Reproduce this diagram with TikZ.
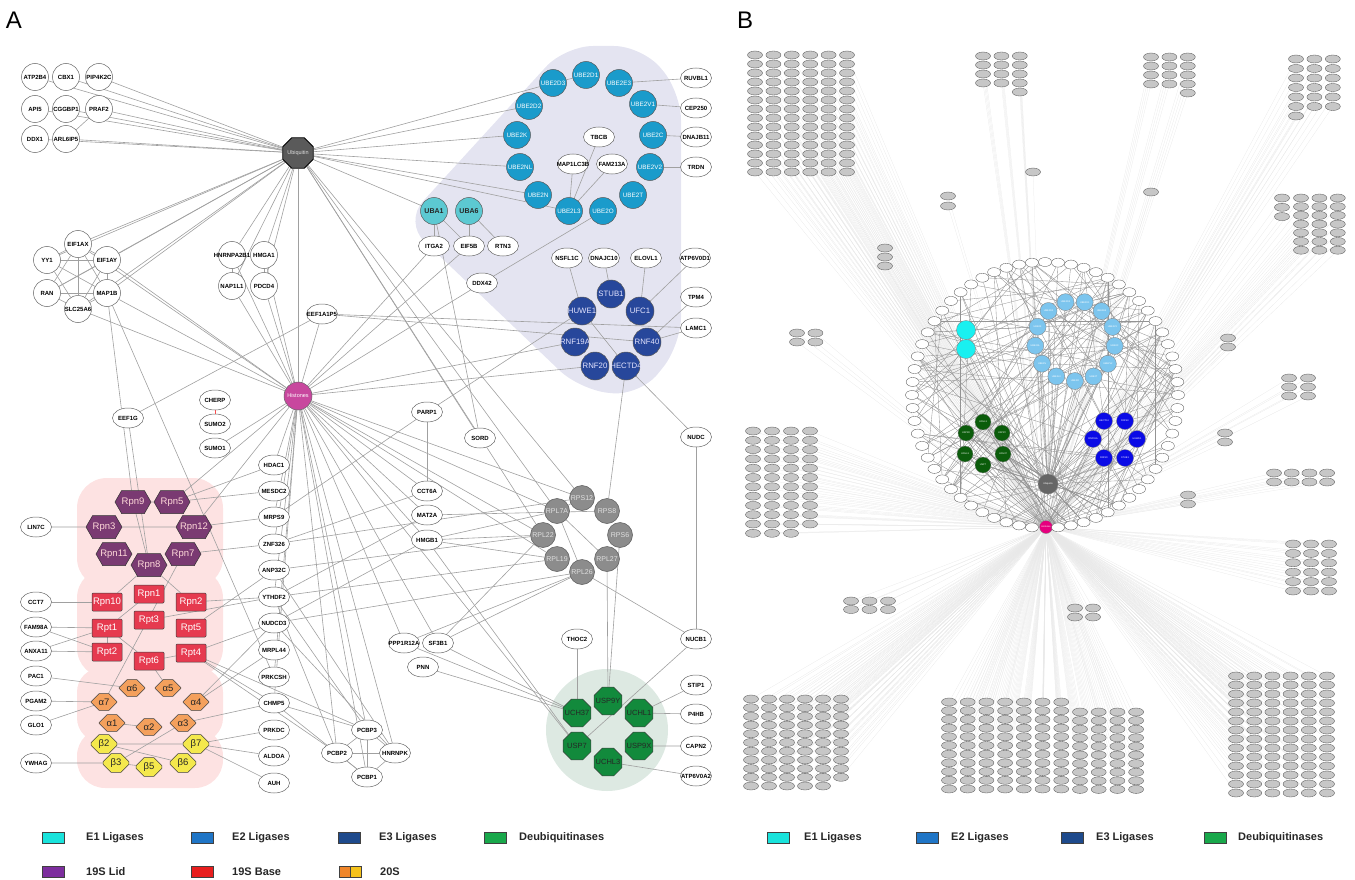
\documentclass[tikz,border=0pt]{standalone}
\usepackage{fontspec}
\setmainfont{Liberation Sans}
\usetikzlibrary{shapes.geometric,shapes.misc,shapes.symbols}
\pgfdeclarelayer{blob}
\pgfdeclarelayer{bg}
\pgfsetlayers{blob,bg,main}

\definecolor{lav}{HTML}{E4E4F1}
\definecolor{pinkbg}{HTML}{FDE2E2}
\definecolor{greenbg}{HTML}{DDE9E2}
\definecolor{cEone}{HTML}{5CC9D2}
\definecolor{cEtwo}{HTML}{1A9BCB}
\definecolor{cEthree}{HTML}{27479B}
\definecolor{cDub}{HTML}{128A3C}
\definecolor{cLid}{HTML}{7A3A72}
\definecolor{cBase}{HTML}{E63A4F}
\definecolor{cAlpha}{HTML}{F4A05C}
\definecolor{cBeta}{HTML}{F4E84C}
\definecolor{cRibo}{HTML}{8C8C8C}
\definecolor{cUbq}{HTML}{5A5A5A}
\definecolor{cHis}{HTML}{C8479E}
\definecolor{edgegray}{HTML}{A0A0A0}
\definecolor{kEone}{HTML}{19E3DC}
\definecolor{kEtwo}{HTML}{1F75C6}
\definecolor{kEthree}{HTML}{1E4A8C}
\definecolor{kDub}{HTML}{19A84B}
\definecolor{kLid}{HTML}{7D2E9E}
\definecolor{kBase}{HTML}{E81E1E}
\definecolor{kAlpha}{HTML}{F0862A}
\definecolor{kBeta}{HTML}{F5C21B}
\definecolor{bEone}{HTML}{19F0F0}
\definecolor{bEtwo}{HTML}{7CC5EE}
\definecolor{bEthree}{HTML}{0A0AE6}
\definecolor{bDub}{HTML}{0B5C0B}
\definecolor{bHisc}{HTML}{E6007E}

\tikzstyle{fixed}=[execute at begin node={\hbox to 0pt\bgroup\hss},execute at end node={\hss\egroup}]
\tikzstyle{vertex}=[ellipse,draw=black!60,fill=white,line width=0.5pt,minimum width=31pt,minimum height=20pt,inner sep=0pt,font=\fontsize{6}{7}\selectfont\bfseries,fixed]
\tikzstyle{Cvertex}=[vertex,circle,minimum size=27pt]
\tikzstyle{Etwo}=[circle,draw=black!65,fill=cEtwo,minimum size=27pt,inner sep=0pt,line width=0.5pt,text=white,font=\fontsize{6.3}{7}\selectfont,fixed]
\tikzstyle{Eone}=[Etwo,fill=cEone,text=black!85,font=\fontsize{7}{8}\selectfont\bfseries]
\tikzstyle{Ethree}=[Etwo,fill=cEthree,minimum size=28pt,text=blue!10,font=\fontsize{7.8}{9}\selectfont]
\tikzstyle{Rvertex}=[Etwo,fill=cRibo,minimum size=25pt,text=black!12,font=\fontsize{7}{8}\selectfont]
\tikzstyle{Dvertex}=[regular polygon,regular polygon sides=8,draw=black!75,fill=cDub,minimum size=30pt,inner sep=0pt,line width=0.5pt,text=black!85,font=\fontsize{7.5}{9}\selectfont,fixed]
\tikzstyle{Avertex}=[chamfered rectangle,chamfered rectangle xsep=4pt,chamfered rectangle ysep=4pt,inner xsep=3.5pt,inner ysep=1pt,draw=black!75,fill=cAlpha,line width=0.5pt,text=black!85,font=\fontsize{9.5}{10}\selectfont]
\tikzstyle{Bvertex}=[Avertex,fill=cBeta]
\tikzstyle{Lvertex}=[signal,signal to=east and west,signal pointer angle=120,draw=black!80,fill=cLid,minimum width=36pt,minimum height=23pt,inner sep=0pt,line width=0.5pt,text=pink!60,font=\fontsize{9.5}{11}\selectfont,fixed]
\tikzstyle{Svertex}=[rectangle,rounded corners=1pt,draw=black!75,fill=cBase,minimum width=30pt,minimum height=18pt,inner sep=0pt,line width=0.5pt,text=white,font=\fontsize{9.5}{11}\selectfont,fixed]
\tikzstyle{Uvertex}=[regular polygon,regular polygon sides=8,draw=black,fill=cUbq,minimum size=33pt,inner sep=0pt,line width=0.9pt,text=black!12,font=\fontsize{5.5}{6}\selectfont,fixed]
\tikzstyle{Hvertex}=[circle,draw=black!60,fill=cHis,minimum size=28pt,inner sep=0pt,line width=0.5pt,text=white,font=\fontsize{5.5}{6}\selectfont,fixed]
\tikzstyle{edge}=[draw=edgegray,line width=0.6pt]
\tikzstyle{gvertex}=[ellipse,draw=black!65,fill=black!22,line width=0.35pt,minimum width=15pt,minimum height=8pt,inner sep=0pt]
\tikzstyle{rvertex}=[gvertex,fill=white,minimum width=13pt,minimum height=9pt]
\tikzstyle{bnode}=[circle,draw=black!50,line width=0.35pt,inner sep=0pt,text=white,font=\fontsize{2.4}{3}\selectfont,fixed]
\tikzstyle{faint}=[draw=black!9,line width=0.25pt]
\tikzstyle{bedge}=[draw=black!42,line width=0.35pt]
\tikzstyle{key}=[rectangle,draw=black!75,line width=0.6pt,minimum width=22pt,minimum height=11pt,inner sep=0pt]
\tikzstyle{keytext}=[anchor=west,inner sep=0pt,text=black!85,font=\fontsize{11}{13}\selectfont\bfseries]

% one block of grey nodes in panel B: name, x, y, columns, rows, dx, dy
\newcommand{\bgrid}[7]{%
  \foreach \i in {1,...,#4}{%
    \foreach \j in {1,...,#5}{%
      \node[gvertex] (#1\i-\j) at ({#2+#6*(\i-1)},{#3+#7*(\j-1)}) {};
    }}}
% the faint links of such a block
\newcommand{\bfan}[7]{%
  \foreach \i in {1,...,#4}{%
    \foreach \j in {1,...,#5}{%
      \draw[faint] (#1\i-\j) -- (bHis);
    }}}
% all blocks of panel B
\newcommand{\allblocks}[1]{%
  #1{tl}{755}{55}{6}{14}{18.4}{9}
  #1{ta}{983}{56}{3}{4}{18.4}{9}
  #1{tax}{1019.8}{92}{1}{1}{0}{0}
  #1{tb}{1151}{57}{3}{4}{18.4}{9}
  #1{tbx}{1187.8}{93}{1}{1}{0}{0}
  #1{tr}{1296}{59}{3}{6}{18.4}{9.5}
  #1{trx}{1296}{116}{1}{1}{0}{0}
  #1{rn}{1282}{198}{1}{3}{0}{9.3}
  #1{rm}{1301}{198}{3}{7}{18.4}{8.7}
  #1{sa}{885}{248}{1}{3}{0}{9}
  #1{sb}{948}{196}{1}{2}{0}{10}
  #1{sc}{1033}{172}{1}{1}{0}{0}
  #1{sd}{1151}{192}{1}{1}{0}{0}
  #1{se}{797}{333}{2}{2}{18.4}{9}
  #1{sf}{1228}{338}{1}{2}{0}{9}
  #1{sg}{1289}{378}{2}{3}{19}{9}
  #1{sh}{1225}{433}{1}{2}{0}{9}
  #1{si}{1274}{473}{4}{2}{17.7}{9}
  #1{sj}{1188}{495}{1}{2}{0}{9}
  #1{lf}{753}{431}{3}{12}{19}{9.3}
  #1{lg}{810}{431}{1}{11}{0}{9.3}
  #1{rt}{1293}{544}{3}{6}{18}{9.4}
  #1{sk}{851}{601}{3}{2}{18.5}{8.5}
  #1{sl}{1075}{608}{2}{2}{18}{9}
  #1{bl}{751}{699}{5}{11}{18}{8.7}
  #1{bm}{841}{699}{1}{10}{0}{8.7}
  #1{ma}{949}{702}{7}{11}{18.7}{8.7}
  #1{mb}{1080}{712}{4}{10}{18.7}{8.6}
  #1{br}{1236}{676}{6}{14}{18.2}{9}}

\begin{document}
\begin{tikzpicture}[x=1pt,y=-1pt]
\useasboundingbox (0,0) rectangle (1355,880);
\node[font=\fontsize{24}{28}\selectfont] (labA) at (14,20) {A};
\node[font=\fontsize{24}{28}\selectfont] (labB) at (745,20) {B};

% shaded groups
\begin{pgfonlayer}{blob}
  \fill[lav,rounded corners=28pt] (404,222) -- (565,46) -- (642,46) -- (681,92) -- (681,345) -- (640,396) -- (580,390) -- cycle;
  \fill[pinkbg,rounded corners=30pt] (77,478) rectangle (223,588);
  \fill[pinkbg,rounded corners=30pt] (77,568) rectangle (223,678);
  \fill[pinkbg,rounded corners=24pt] (77,668) rectangle (223,742);
  \fill[pinkbg,rounded corners=28pt] (77,728) rectangle (223,788);
  \fill[greenbg] (607,730) circle[radius=61];
\end{pgfonlayer}

% hubs
\node[Uvertex] (Ubiquitin) at (298,153) {Ubiquitin};
\node[Hvertex] (Histones) at (298,396) {Histones};

% top left
\node[Cvertex] (ATP2B4) at (35,77) {ATP2B4};
\node[Cvertex] (CBX1) at (66,77) {CBX1};
\node[Cvertex] (PIP4K2C) at (99,77) {PIP4K2C};
\node[Cvertex] (API5) at (35,109) {API5};
\node[Cvertex] (CGGBP1) at (66,109) {CGGBP1};
\node[Cvertex] (PRAF2) at (99,109) {PRAF2};
\node[Cvertex] (DDX1) at (35,139) {DDX1};
\node[Cvertex] (ARL6IP5) at (66,139) {ARL6IP5};

% E2 ring
\node[Etwo] (UBE2D1) at (586,75) {UBE2D1};
\node[Etwo] (UBE2D3) at (553,83) {UBE2D3};
\node[Etwo] (UBE2E3) at (619,83) {UBE2E3};
\node[Etwo] (UBE2D2) at (529,106) {UBE2D2};
\node[Etwo] (UBE2V1) at (643,104) {UBE2V1};
\node[Etwo] (UBE2K) at (517,135) {UBE2K};
\node[Etwo] (UBE2C) at (653,135) {UBE2C};
\node[Etwo] (UBE2NL) at (520,167) {UBE2NL};
\node[Etwo] (UBE2V2) at (650,167) {UBE2V2};
\node[Etwo] (UBE2N) at (538,195) {UBE2N};
\node[Etwo] (UBE2T) at (633,195) {UBE2T};
\node[Etwo] (UBE2L3) at (569,211) {UBE2L3};
\node[Etwo] (UBE2O) at (603,211) {UBE2O};
\node[vertex] (TBCB) at (599,137) {TBCB};
\node[vertex] (MAP1LC3B) at (573,164) {MAP1LC3B};
\node[vertex] (FAM213A) at (612,164) {FAM213A};
\node[vertex] (RUVBL1) at (696,78) {RUVBL1};
\node[vertex] (CEP250) at (696,108) {CEP250};
\node[vertex] (DNAJB11) at (696,137) {DNAJB11};
\node[vertex] (TRDN) at (696,167) {TRDN};

% E1
\node[Eone] (UBA1) at (434,211) {UBA1};
\node[Eone] (UBA6) at (469,211) {UBA6};
\node[vertex] (ITGA2) at (434,246) {ITGA2};
\node[vertex] (EIF5B) at (469,246) {EIF5B};
\node[vertex] (RTN3) at (503,246) {RTN3};
\node[vertex] (DDX42) at (482,283) {DDX42};

% E3
\node[vertex] (NSFL1C) at (567,258) {NSFL1C};
\node[vertex] (DNAJC10) at (604,258) {DNAJC10};
\node[vertex] (ELOVL1) at (646,258) {ELOVL1};
\node[vertex] (ATP6V0D1) at (695,258) {ATP6V0D1};
\node[vertex] (TPM4) at (696,297) {TPM4};
\node[vertex] (LAMC1) at (696,328) {LAMC1};
\node[Ethree] (STUB1) at (611,294) {STUB1};
\node[Ethree] (HUWE1) at (582,311) {HUWE1};
\node[Ethree] (UFC1) at (640,311) {UFC1};
\node[Ethree] (RNF19A) at (575,342) {RNF19A};
\node[Ethree] (RNF40) at (647,342) {RNF40};
\node[Ethree] (RNF20) at (595,366) {RNF20};
\node[Ethree] (HECTD4) at (626,366) {HECTD4};
\node[vertex] (PARP1) at (427,412) {PARP1};
\node[vertex] (SORD) at (480,438) {SORD};
\node[vertex] (NUDC) at (696,437) {NUDC};

% left middle
\node[Cvertex] (EIF1AX) at (78,244) {EIF1AX};
\node[Cvertex] (YY1) at (47,260) {YY1};
\node[Cvertex] (EIF1AY) at (107,260) {EIF1AY};
\node[Cvertex] (RAN) at (47,293) {RAN};
\node[Cvertex] (MAP1B) at (107,293) {MAP1B};
\node[Cvertex] (SLC25A6) at (78,309) {SLC25A6};
\node[Cvertex] (HNRNPA2B1) at (232,255) {HNRNPA2B1};
\node[Cvertex] (HMGA1) at (264,255) {HMGA1};
\node[Cvertex] (NAP1L1) at (232,286) {NAP1L1};
\node[Cvertex] (PDCD4) at (264,286) {PDCD4};
\node[vertex] (EEF1A1P5) at (322,314) {EEF1A1P5};
\node[vertex] (CHERP) at (215,400) {CHERP};
\node[vertex] (SUMO2) at (215,424) {SUMO2};
\node[vertex] (SUMO1) at (215,448) {SUMO1};
\node[vertex] (EEF1G) at (128,418) {EEF1G};

% column right of the proteasome
\node[vertex] (HDAC1) at (274,465) {HDAC1};
\node[vertex] (MESDC2) at (274,491) {MESDC2};
\node[vertex] (MRPS9) at (274,517) {MRPS9};
\node[vertex] (ZNF326) at (274,544) {ZNF326};
\node[vertex] (ANP32C) at (274,570) {ANP32C};
\node[vertex] (YTHDF2) at (274,597) {YTHDF2};
\node[vertex] (NUDCD3) at (274,623) {NUDCD3};
\node[vertex] (MRPL44) at (274,650) {MRPL44};
\node[vertex] (PRKCSH) at (274,677) {PRKCSH};
\node[vertex] (CHMP5) at (274,703) {CHMP5};
\node[vertex] (PRKDC) at (274,730) {PRKDC};
\node[vertex] (ALDOA) at (274,756) {ALDOA};
\node[vertex] (AUH) at (274,783) {AUH};

% column left of the proteasome
\node[vertex] (LIN7C) at (36,527) {LIN7C};
\node[vertex] (CCT7) at (36,602) {CCT7};
\node[vertex] (FAM98A) at (36,627) {FAM98A};
\node[vertex] (ANXA11) at (36,651) {ANXA11};
\node[vertex] (PAC1) at (36,676) {PAC1};
\node[vertex] (PGAM2) at (36,701) {PGAM2};
\node[vertex] (GLO1) at (36,725) {GLO1};
\node[vertex] (YWHAG) at (36,763) {YWHAG};

% 19S lid
\node[Lvertex] (Rpn9) at (133,502) {Rpn9};
\node[Lvertex] (Rpn5) at (172,502) {Rpn5};
\node[Lvertex] (Rpn3) at (104,527) {Rpn3};
\node[Lvertex] (Rpn12) at (194,527) {Rpn12};
\node[Lvertex] (Rpn11) at (114,554) {Rpn11};
\node[Lvertex] (Rpn7) at (183,554) {Rpn7};
\node[Lvertex] (Rpn8) at (149,565) {Rpn8};

% 19S base
\node[Svertex] (Rpn1) at (149,594) {Rpn1};
\node[Svertex] (Rpn10) at (107,602) {Rpn10};
\node[Svertex] (Rpn2) at (191,602) {Rpn2};
\node[Svertex] (Rpt3) at (149,620) {Rpt3};
\node[Svertex] (Rpt1) at (107,628) {Rpt1};
\node[Svertex] (Rpt5) at (191,628) {Rpt5};
\node[Svertex] (Rpt2) at (107,652) {Rpt2};
\node[Svertex] (Rpt4) at (191,653) {Rpt4};
\node[Svertex] (Rpt6) at (149,661) {Rpt6};

% 20S
\node[Avertex] (a6) at (132,688) {α6};
\node[Avertex] (a5) at (168,688) {α5};
\node[Avertex] (a7) at (104,702) {α7};
\node[Avertex] (a4) at (196,702) {α4};
\node[Avertex] (a1) at (112,723) {α1};
\node[Avertex] (a2) at (149,727) {α2};
\node[Avertex] (a3) at (183,723) {α3};
\node[Bvertex] (b2) at (104,744) {β2};
\node[Bvertex] (b7) at (196,744) {β7};
\node[Bvertex] (b3) at (116,763) {β3};
\node[Bvertex] (b5) at (149,767) {β5};
\node[Bvertex] (b6) at (183,763) {β6};

% middle and ribosome
\node[vertex] (CCT6A) at (427,491) {CCT6A};
\node[vertex] (MAT2A) at (427,515) {MAT2A};
\node[vertex] (HMGB1) at (427,540) {HMGB1};
\node[Rvertex] (RPS12) at (582,498) {RPS12};
\node[Rvertex] (RPL7A) at (557,511) {RPL7A};
\node[Rvertex] (RPS8) at (607,511) {RPS8};
\node[Rvertex] (RPL22) at (543,535) {RPL22};
\node[Rvertex] (RPS6) at (620,535) {RPS6};
\node[Rvertex] (RPL19) at (557,559) {RPL19};
\node[Rvertex] (RPL27) at (607,559) {RPL27};
\node[Rvertex] (RPL26) at (582,572) {RPL26};
\node[vertex] (PPP1R12A) at (404,643) {PPP1R12A};
\node[vertex] (SF3B1) at (438,643) {SF3B1};
\node[vertex] (PNN) at (423,667) {PNN};
\node[vertex] (THOC2) at (577,639) {THOC2};
\node[vertex] (NUCB1) at (696,639) {NUCB1};
\node[vertex] (STIP1) at (696,685) {STIP1};
\node[vertex] (P4HB) at (696,714) {P4HB};
\node[vertex] (CAPN2) at (696,746) {CAPN2};
\node[vertex] (ATP6V0A2) at (696,776) {ATP6V0A2};
\node[vertex] (PCBP3) at (367,730) {PCBP3};
\node[vertex] (HNRNPK) at (395,753) {HNRNPK};
\node[vertex] (PCBP2) at (337,753) {PCBP2};
\node[vertex] (PCBP1) at (367,777) {PCBP1};

% deubiquitinases
\node[Dvertex] (USP9Y) at (608,701) {USP9Y};
\node[Dvertex] (UCH37) at (577,713) {UCH37};
\node[Dvertex] (UCHL1) at (639,713) {UCHL1};
\node[Dvertex] (USP7) at (577,746) {USP7};
\node[Dvertex] (USP9X) at (639,746) {USP9X};
\node[Dvertex] (UCHL3) at (608,762) {UCHL3};

% panel B, inner circle
\node[bnode,fill=bHisc,minimum size=13pt] (bHis) at (1046,527) {Histones};
\node[bnode,fill=black!60,minimum size=20pt] (bUbq) at (1048,484) {Ubiquitin};
\foreach \k in {1,...,63}
  \node[rvertex] (r\k) at ({1045+133*cos(270+5.625*\k)},{395-133*sin(270+5.625*\k)}) {};
\node[bnode,fill=bEone,minimum size=19pt] (e1b1) at (966,330) {};
\node[bnode,fill=bEone,minimum size=19pt] (e1b2) at (966,349) {};
\foreach \n [count=\k] in {UBE2D1,UBE2E3,UBE2V1,UBE2C,UBE2V2,UBE2T,UBE2O,UBE2L3,UBE2N,UBE2NL,UBE2K,UBE2D2,UBE2D3}
  \node[bnode,fill=bEtwo,minimum size=17pt] (e2b\k) at ({1075+40*cos(76-27.69*(\k-1))},{341-40*sin(76-27.69*(\k-1))}) {\n};
\node[bnode,fill=bEthree,minimum size=17pt] (e3b1) at (1104,421) {HECTD4};
\node[bnode,fill=bEthree,minimum size=17pt] (e3b2) at (1125,421) {RNF40};
\node[bnode,fill=bEthree,minimum size=17pt] (e3b3) at (1093,439) {RNF19A};
\node[bnode,fill=bEthree,minimum size=17pt] (e3b4) at (1137,439) {HUWE1};
\node[bnode,fill=bEthree,minimum size=17pt] (e3b5) at (1104,458) {RNF20};
\node[bnode,fill=bEthree,minimum size=17pt] (e3b6) at (1125,458) {STUB1};
\node[bnode,fill=bDub,minimum size=16pt] (dbb1) at (983,422) {UCHL1};
\node[bnode,fill=bDub,minimum size=16pt] (dbb2) at (966,433) {USP9X};
\node[bnode,fill=bDub,minimum size=16pt] (dbb3) at (1002,433) {USP9Y};
\node[bnode,fill=bDub,minimum size=16pt] (dbb4) at (965,454) {UCHL3};
\node[bnode,fill=bDub,minimum size=16pt] (dbb5) at (1003,454) {UCH37};
\node[bnode,fill=bDub,minimum size=16pt] (dbb6) at (983,465) {USP7};

% panel B, outer blocks
\allblocks{\bgrid}

% all edges
\begin{pgfonlayer}{bg}
\foreach \n in {ATP2B4,CBX1,PIP4K2C,API5,CGGBP1,PRAF2,DDX1,ARL6IP5,UBE2D3,UBE2D2,UBE2K,UBE2NL,UBE2N,UBE2L3,UBA1,
  EIF1AX,YY1,EIF1AY,MAP1B,SLC25A6,RAN,HNRNPA2B1,HMGA1,NAP1L1,PDCD4,Histones,SORD,RPL7A,RPL22,RPS12}
  \draw[edge] (Ubiquitin) -- (\n);
\foreach \n in {EIF1AX,EIF1AY,MAP1B,SLC25A6,HNRNPA2B1,HMGA1,NAP1L1,PDCD4,EEF1A1P5,ITGA2,EIF5B,DDX42,RNF19A,RNF20,
  SUMO1,HDAC1,Rpn5,Rpn12,MRPS9,ZNF326,YTHDF2,CCT6A,MAT2A,HMGB1,RPL7A,RPS12,RPL19,RPL22,USP7,SF3B1,PPP1R12A,
  PCBP3,HNRNPK,PCBP2,PCBP1,CHMP5,PRKCSH}
  \draw[edge] (Histones) -- (\n);
\foreach \a/\b in {PRAF2/ARL6IP5,EIF1AX/YY1,EIF1AX/EIF1AY,EIF1AX/RAN,EIF1AX/SLC25A6,EIF1AX/MAP1B,YY1/EIF1AY,
  YY1/SLC25A6,YY1/MAP1B,RAN/SLC25A6,RAN/EIF1AY,RAN/MAP1B,SLC25A6/MAP1B,SLC25A6/EIF1AY,MAP1B/EIF1AY,
  MAP1B/PRKCSH,MAP1B/Rpn9,EEF1G/EEF1A1P5,EEF1G/Rpn8,EEF1A1P5/LAMC1,EEF1A1P5/RNF40,
  HNRNPA2B1/NAP1L1,HMGA1/PDCD4,UBA1/ITGA2,UBA1/EIF5B,UBA6/EIF5B,UBA6/RTN3,UBA1/SORD,UBE2O/DDX42,
  UBE2L3/MAP1LC3B,UBE2L3/TBCB,UBE2L3/FAM213A,UBE2E3/RUVBL1,UBE2V1/CEP250,UBE2C/DNAJB11,UBE2V2/TRDN,
  UBE2D3/UBE2D1,NSFL1C/HUWE1,DNAJC10/STUB1,ELOVL1/UFC1,ATP6V0D1/UFC1,TPM4/RNF40,LAMC1/RNF40,
  HUWE1/HECTD4,HUWE1/PARP1,HECTD4/NUDC,HECTD4/RPS8,NUDC/NUCB1,NUCB1/RPL26,NUCB1/USP7,
  PARP1/CCT6A,PARP1/MRPS9,CCT6A/ZNF326,MAT2A/YTHDF2,MAT2A/RPS8,HMGB1/RPL22,HMGB1/RPL7A,HMGB1/RPL19,
  HMGB1/USP7,HMGB1/NUDCD3,RPL7A/RPL27,RPL7A/RPS12,RPL7A/RPL26,RPL22/SF3B1,RPL26/SF3B1,RPL26/PPP1R12A,
  RPL19/YTHDF2,RPS12/ZNF326,RPL22/ANP32C,RPL26/NUDCD3,RPL27/USP9Y,RPS6/USP9Y,
  PPP1R12A/UCH37,PNN/UCH37,SF3B1/UCH37,THOC2/UCH37,UCHL1/STIP1,UCHL1/P4HB,USP9X/CAPN2,UCHL3/ATP6V0A2,
  LIN7C/Rpn3,Rpn3/Rpn12,Rpn9/Rpn5,Rpn9/Rpn8,Rpn5/MESDC2,Rpn5/HDAC1,Rpn12/MRPS9,Rpn7/ZNF326,Rpn7/a7,
  Rpn8/Rpn10,Rpn8/Rpn2,Rpn10/CCT7,Rpn1/Rpt1,Rpt1/FAM98A,Rpt1/ANXA11,Rpt2/FAM98A,Rpt2/ANXA11,Rpt1/Rpt2,
  Rpt1/Rpt6,Rpt3/YTHDF2,Rpn2/YTHDF2,Rpt5/ANP32C,Rpt6/Rpt4,Rpt6/a5,Rpt4/NUDCD3,Rpt4/CHMP5,Rpt4/PCBP2,
  Rpt4/PCBP3,a6/PAC1,a7/PGAM2,a7/GLO1,a1/a2,a4/MRPL44,a4/NUDCD3,a3/CHMP5,b2/b7,b2/b6,b7/PRKDC,b7/ALDOA,
  b7/AUH,b3/YWHAG,b3/b5,b3/a3,YTHDF2/PCBP2,YTHDF2/PCBP3,NUDCD3/HNRNPK,CHMP5/PCBP1,CHMP5/PCBP3,
  PCBP3/HNRNPK,PCBP3/PCBP1,PCBP2/HNRNPK,PCBP2/PCBP1,PCBP2/PCBP3,PCBP1/HNRNPK,ANP32C/HNRNPK}
  \draw[edge] (\a) -- (\b);
\draw[red!70,line width=0.6pt] (CHERP) -- (SUMO2);
% panel B
\allblocks{\bfan}
\pgfmathsetseed{11}
\foreach \k in {1,3,...,63} \draw[bedge] (bHis) -- (r\k);
\foreach \k in {3,6,...,63} \draw[bedge] (bUbq) -- (r\k);
\foreach \n in {e1b1,e1b2,e3b1,e3b3,e3b5,dbb2,dbb4,dbb6} \draw[bedge] (bHis) -- (\n);
\foreach \k in {1,...,13} \draw[bedge] (bUbq) -- (e2b\k);
\foreach \n in {e1b1,e1b2,e3b1,e3b2,e3b3,e3b4,e3b5,e3b6,dbb1,dbb2,dbb3,dbb4,dbb5,dbb6} \draw[bedge] (bUbq) -- (\n);
\foreach \k in {1,...,60}{%
  \pgfmathrandominteger{\p}{1}{63}\pgfmathrandominteger{\s}{10}{50}%
  \pgfmathtruncatemacro{\q}{mod(\p+\s,63)+1}%
  \draw[bedge] (r\p) -- (r\q);}
\foreach \k in {1,...,40}{%
  \pgfmathrandominteger{\p}{1}{63}\pgfmathrandominteger{\q}{1}{13}%
  \draw[bedge] (r\p) -- (e2b\q);}
\foreach \k in {1,...,20}{%
  \pgfmathrandominteger{\p}{1}{63}\pgfmathrandominteger{\q}{1}{6}%
  \draw[bedge] (r\p) -- (e3b\q);
  \draw[bedge] (r\q) -- (dbb\q);}
\end{pgfonlayer}

% legends
\node[key,fill=kEone] (kA1) at (53,838) {};
\node[keytext] (tA1) at (86,838) {E1 Ligases};
\node[key,fill=kEtwo] (kA2) at (202,838) {};
\node[keytext] (tA2) at (232,838) {E2 Ligases};
\node[key,fill=kEthree] (kA3) at (349,838) {};
\node[keytext] (tA3) at (379,838) {E3 Ligases};
\node[key,fill=kDub] (kA4) at (495,838) {};
\node[keytext] (tA4) at (519,838) {Deubiquitinases};
\node[key,fill=kLid] (kA5) at (53,872) {};
\node[keytext] (tA5) at (86,872) {19S Lid};
\node[key,fill=kBase] (kA6) at (202,872) {};
\node[keytext] (tA6) at (232,872) {19S Base};
\node[key,fill=kBeta,path picture={\fill[kAlpha] (path picture bounding box.south west) rectangle (path picture bounding box.north);
  \draw[black!75,line width=0.5pt] (path picture bounding box.south) -- (path picture bounding box.north);}] (kA7) at (350,872) {};
\node[keytext] (tA7) at (380,872) {20S};
\node[key,fill=kEone] (kB1) at (778,838) {};
\node[keytext] (tB1) at (804,838) {E1 Ligases};
\node[key,fill=kEtwo] (kB2) at (927,838) {};
\node[keytext] (tB2) at (951,838) {E2 Ligases};
\node[key,fill=kEthree] (kB3) at (1072,838) {};
\node[keytext] (tB3) at (1096,838) {E3 Ligases};
\node[key,fill=kDub] (kB4) at (1215,838) {};
\node[keytext] (tB4) at (1238,838) {Deubiquitinases};
\end{tikzpicture}
\end{document}
